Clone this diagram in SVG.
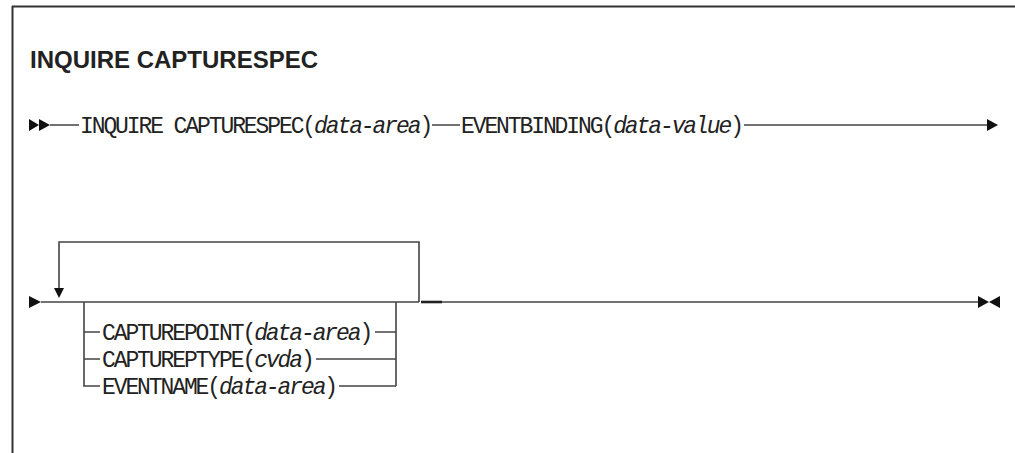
<svg xmlns="http://www.w3.org/2000/svg" width="1015" height="453" viewBox="0 0 1015 453">
<style>
.frame{stroke:#333;stroke-width:2;fill:none}
.ln{stroke:#444;stroke-width:1.6;fill:none}
.thick{stroke:#222;stroke-width:2.6;fill:none}
.ah{fill:#111}
.title{font-family:"Liberation Sans",Arial,sans-serif;font-weight:bold;font-size:24px;fill:#222}
.t{font-family:"Liberation Mono","Courier New",monospace;font-size:23px;letter-spacing:-2.1px;fill:#222}
.v{font-style:italic}
</style>
<rect width="1015" height="453" fill="#fff"/>
<g id="frame">
<path class="frame" d="M12 6.5H1015M12.5 6V453"/>
</g>
<g id="title">
<text class="title" x="30" y="68">INQUIRE CAPTURESPEC</text>
</g>
<g id="connectors">
<path class="ln" d="M50 125H79M432 125H460M744 125H988"/>
<polygon class="ah" points="29,119 39,125 29,131"/>
<polygon class="ah" points="39,119 50,125 39,131"/>
<polygon class="ah" points="987,119 998,125 987,131"/>
<polygon class="ah" points="29,296 41,302 29,308"/>
<path class="ln" d="M41 302H419M442 302H978"/>
<path class="thick" d="M421 302H442"/>
<polygon class="ah" points="978,296 989,302 978,308"/>
<polygon class="ah" points="1000,296 989,302 1000,308"/>
<path class="ln" d="M419 302V242H59V290"/>
<polygon class="ah" points="54,288 64,288 59,298"/>
<path class="ln" d="M84 302V386H100M84 332H100M84 359H100"/>
<path class="ln" d="M396 302V386M375 332H396M316 359H396M339 386H396"/>
</g>
<g id="n-inquire">
<text class="t" x="80" y="133">INQUIRE CAPTURESPEC(<tspan class="v">data-area</tspan>)</text>
</g>
<g id="n-eventbinding">
<text class="t" x="461" y="133">EVENTBINDING(<tspan class="v">data-value</tspan>)</text>
</g>
<g id="n-capturepoint">
<text class="t" x="102" y="340">CAPTUREPOINT(<tspan class="v">data-area</tspan>)</text>
</g>
<g id="n-captureptype">
<text class="t" x="102" y="367">CAPTUREPTYPE(<tspan class="v">cvda</tspan>)</text>
</g>
<g id="n-eventname">
<text class="t" x="102" y="394">EVENTNAME(<tspan class="v">data-area</tspan>)</text>
</g>
</svg>
